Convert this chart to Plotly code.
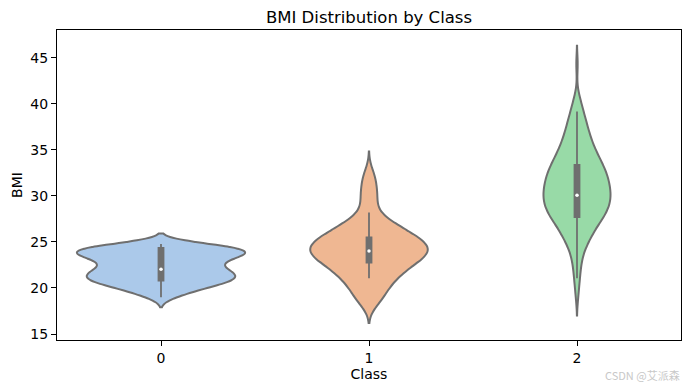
import numpy as np
import plotly.graph_objects as go

# ---- data ----
classes = ["0", "1", "2"]

# BMI sample values and how many times each occurs, per class
bmi_vals_0 = [19.0, 19.4, 19.8, 20.2, 20.6, 21.0, 21.4, 21.8, 22.2, 22.6, 23.0, 23.4, 23.8, 24.2, 24.6, 24.8]
bmi_cnts_0 = [2, 3, 4, 6, 8, 9, 9, 8, 7, 6, 7, 9, 11, 11, 7, 3]

bmi_vals_1 = [18.0, 18.5, 19.0, 19.5, 20.0, 20.5, 21.0, 21.5, 22.0, 22.5, 23.0, 23.5, 24.0, 24.5, 25.0,
              25.5, 26.0, 26.5, 27.0, 27.5, 28.0, 28.5, 29.0, 29.5, 30.0, 30.5, 31.0, 31.5, 32.0, 32.5, 33.0]
bmi_cnts_1 = [3, 4, 5, 6, 6, 8, 9, 11, 12, 15, 17, 20, 22, 21, 19,
              17, 14, 11, 9, 6, 3, 3, 2, 3, 3, 3, 2, 3, 2, 2, 1]

bmi_vals_2 = [19.0, 20.0, 21.0, 22.0, 23.0, 24.0, 25.0, 26.0, 27.0, 28.0, 29.0, 30.0, 31.0, 32.0,
              33.0, 34.0, 35.0, 36.0, 37.0, 38.0, 39.0, 40.0, 41.0, 44.3]
bmi_cnts_2 = [1, 1, 2, 2, 3, 4, 7, 10, 13, 18, 20, 21, 20, 19,
              17, 14, 11, 9, 7, 6, 4, 3, 1, 1]

# kernel bandwidths per class
bandwidths = [0.55, 0.9, 1.0]

# inner box statistics per class
box_q1 = [20.8, 22.75, 27.68]
box_median = [22.03, 24.0, 30.07]
box_q3 = [24.35, 25.5, 33.37]
box_low = [18.98, 21.05, 21.05]
box_high = [24.78, 28.2, 39.16]

# ---- styling ----
fills = ["#abc9ea", "#efb792", "#98daa7"]
violin_widths = [0.808, 0.564, 0.322]
gray = "#6f6f6f"
font_family = "DejaVu Sans"

samples = [
    np.repeat(bmi_vals_0, bmi_cnts_0),
    np.repeat(bmi_vals_1, bmi_cnts_1),
    np.repeat(bmi_vals_2, bmi_cnts_2),
]

fig = go.Figure()
for i, c in enumerate(classes):
    fig.add_trace(go.Violin(
        x0=c, y=samples[i], name=c,
        bandwidth=bandwidths[i], spanmode="soft",
        width=violin_widths[i], scalemode="width",
        points=False, box_visible=False, meanline_visible=False,
        fillcolor=fills[i], opacity=1,
        line=dict(color=gray, width=2),
        showlegend=False, hoverinfo="skip",
    ))

fig.add_trace(go.Box(
    x=classes, q1=box_q1, median=box_median, q3=box_q3,
    lowerfence=box_low, upperfence=box_high,
    width=0.024, whiskerwidth=0, boxpoints=False,
    fillcolor=gray, line=dict(color=gray, width=1.8),
    showlegend=False, hoverinfo="skip",
))

fig.add_trace(go.Scatter(
    x=classes, y=box_median, mode="markers",
    marker=dict(color="white", size=3.5, line=dict(width=0)),
    showlegend=False, hoverinfo="skip",
))

fig.update_layout(
    width=690, height=390,
    margin=dict(l=57, r=9, t=30, b=50, autoexpand=False),
    plot_bgcolor="white", paper_bgcolor="white",
    violinmode="overlay", boxmode="overlay",
    font=dict(family=font_family, size=14, color="black"),
    title=dict(text="BMI Distribution by Class", x=0.5, xref="paper", xanchor="center",
               y=1 - 17 / 390, yref="container", yanchor="middle", automargin=False,
               font=dict(size=16.5, family=font_family, color="black")),
    annotations=[dict(
        text="CSDN @艾派森", xref="paper", yref="paper",
        x=(682 - 57) / (690 - 57 - 9), y=-(375 - 340) / (390 - 30 - 50),
        xanchor="right", yanchor="middle", showarrow=False,
        font=dict(size=11, color="#c8c8c8", family="Noto Sans CJK SC"),
    )],
)

fig.update_xaxes(
    type="category", range=[-0.5, 2.5], automargin=False,
    showline=True, mirror=True, linecolor="black", linewidth=1,
    ticks="outside", ticklen=5, tickwidth=1, tickcolor="black",
    showgrid=False, zeroline=False,
    title=dict(text="Class", font=dict(size=14), standoff=4),
    tickfont=dict(size=14),
)
fig.update_yaxes(
    range=[14.35, 48.0], tickvals=[15, 20, 25, 30, 35, 40, 45], automargin=False,
    showline=True, mirror=True, linecolor="black", linewidth=1,
    ticks="outside", ticklen=5, tickwidth=1, tickcolor="black",
    showgrid=False, zeroline=False,
    title=dict(text="BMI", font=dict(size=14), standoff=4),
    tickfont=dict(size=14),
)

fig.write_html(
    "out.html",
    config={"displayModeBar": False, "staticPlot": True},
    post_script="document.body.style.margin='0px';document.body.style.overflow='hidden';",
)
